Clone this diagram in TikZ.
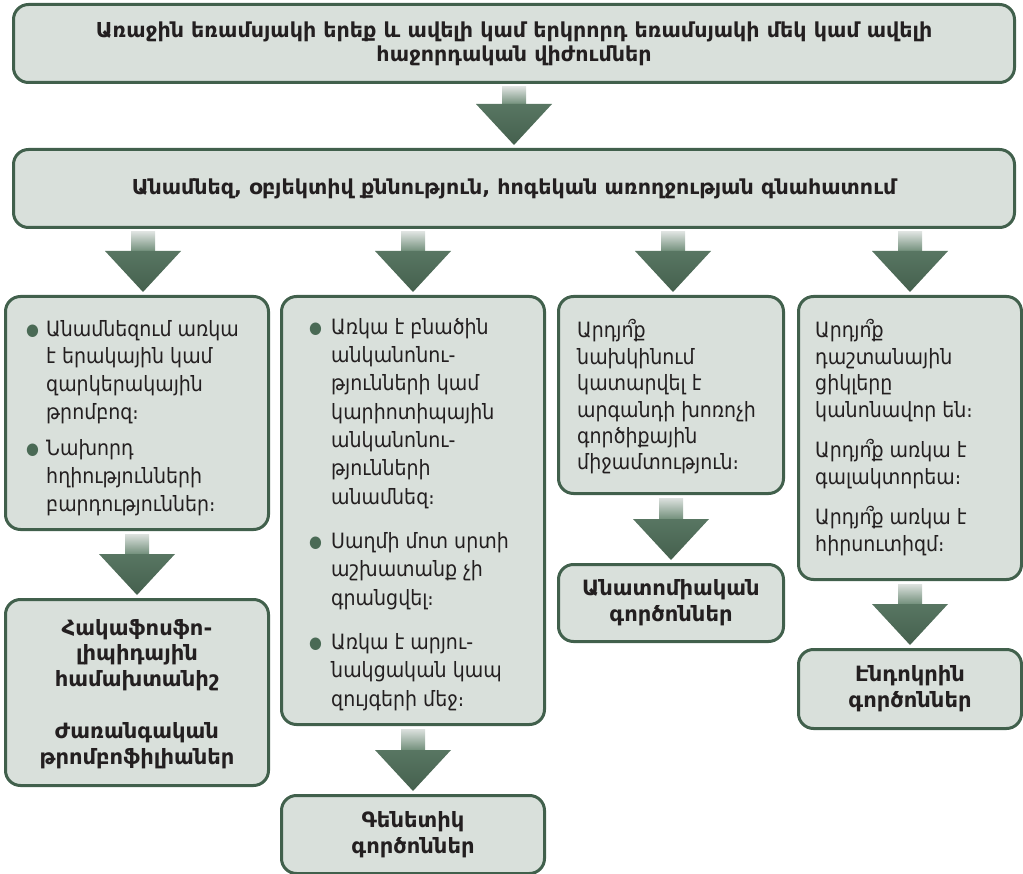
\documentclass[tikz,border=0pt]{standalone}
\usepackage{fontspec}
\setmainfont{DejaVu Sans}
\newfontfamily\condf{DejaVu Sans Condensed}
\usetikzlibrary{calc}
\definecolor{boxfill}{HTML}{D9E0DB}
\definecolor{boxline}{HTML}{41604C}
\definecolor{arrowtop}{HTML}{DCE1DE}
\definecolor{arrowmid}{HTML}{6E8C77}
\definecolor{arrowhead}{HTML}{587662}
\definecolor{arrowdark}{HTML}{45604E}
\definecolor{bulletc}{HTML}{4A6A55}
\definecolor{txtc}{HTML}{231F20}
\newlength\px
\setlength\px{0.03cm}
\newcommand\bul[1]{\makebox[#1][l]{\textcolor{bulletc}{\fontsize{14}{14}\selectfont\raisebox{0.6pt}{●}}}}
\newcommand\qm{\makebox[0pt][l]{\kern-0.24em ՞}}
\newcommand\barrow[3][0]{%
  \coordinate (bt-#2-#3) at ($(#2.south -| #3.north)+(#1,3)$);
  \coordinate (bp-#2-#3) at ($(#3.north)+(#1,-3)$);
  \shade[top color=arrowtop, bottom color=arrowmid] ($(bt-#2-#3)+(-12,0)$) rectangle ($(bp-#2-#3)+(12,-40)$);
  \shade[top color=arrowhead, bottom color=arrowdark] ($(bp-#2-#3)+(-38,-41)$) -- ($(bp-#2-#3)+(38,-41)$) -- (bp-#2-#3) -- cycle;
}
\tikzset{
  box/.style={draw=boxline, fill=boxfill, line width=3\px, rounded corners=15\px, inner sep=0pt, align=center, text=txtc},
  txt/.style={inner sep=0pt, text=txtc, anchor=base west},
  titlef/.style={font=\bfseries\fontsize{17.6}{20.5}\selectfont},
  bottomf/.style={font=\bfseries\fontsize{18}{22.1}\selectfont}
}
\begin{document}
\begin{tikzpicture}[x=0.03cm, y=-0.03cm]
\useasboundingbox (0,0) rectangle (1023,874);
% top boxes
\node[box, titlef, anchor=north west, minimum width=1001\px, minimum height=78\px] (T) at (12,3)
  {Առաջին եռամսյակի երեք և ավելի կամ երկրորդ եռամսյակի մեկ կամ ավելի\\հաջորդական վիժումներ};
\node[box, titlef, anchor=north west, minimum width=1001\px, minimum height=78\px] (M) at (12,148)
  {Անամնեզ, օբյեկտիվ քննություն, հոգեկան առողջության գնահատում};
% middle row
\node[box, anchor=north west, minimum width=263\px, minimum height=233\px] (A) at (4,295) {};
\node[box, anchor=north west, minimum width=263\px, minimum height=428\px] (B) at (280,295) {};
\node[box, anchor=north west, minimum width=225\px, minimum height=197\px] (C) at (557,295) {};
\node[box, anchor=north west, minimum width=223\px, minimum height=283\px] (D) at (797,295) {};
% bottom row
\node[box, anchor=north west, minimum width=263\px, minimum height=186\px] (A2) at (4,598) {};
\node[box, bottomf, anchor=north west, minimum width=263\px, minimum height=78\px] (B2) at (280,794)
  {Գենետիկ\\գործոններ};
\node[box, bottomf, anchor=north west, minimum width=225\px, minimum height=77\px] (C2) at (557,563)
  {Անատոմիական\\գործոններ};
\node[box, bottomf, anchor=north west, minimum width=223\px, minimum height=79\px] (D2) at (797,648)
  {Էնդոկրին\\գործոններ};
% texts
\node[txt, bottomf, anchor=base] (A2t) at ($(A2.north)+(0,37)$)
  {\begin{tabular}[t]{@{}c@{}}Հակաֆոսֆո-\\ լիպիդային\\ համախտանիշ\\[22.1pt] Ժառանգական\\ թրոմբոֆիլիաներ\end{tabular}};
\node[txt, font=\condf\fontsize{18}{23.8}\selectfont] (At) at ($(A.north west)+(22,41)$)
  {\begin{tabular}[t]{@{}l@{}l@{}}
   \bul{20\px} & Անամնեզում առկա\\ & է երակային կամ\\ & զարկերակային\\ & թրոմբոզ։\\[6.8pt]
   \bul{20\px} & Նախորդ\\ & հղիությունների\\ & բարդություններ։
   \end{tabular}};
\node[txt, font=\condf\fontsize{18}{24.2}\selectfont] (Bt) at ($(B.north west)+(29,39)$)
  {\begin{tabular}[t]{@{}l@{}l@{}}
   \bul{22\px} & Առկա է բնածին\\ & անկանոնու-\\ & թյունների կամ\\ & կարիոտիպային\\ & անկանոնու-\\ & թյունների\\ & անամնեզ։\\[13.6pt]
   \bul{22\px} & Սաղմի մոտ սրտի\\ & աշխատանք չի\\ & գրանցվել։\\[13.6pt]
   \bul{22\px} & Առկա է արյու-\\ & նակցական կապ\\ & զույգերի մեջ։
   \end{tabular}};
\node[txt, font=\condf\fontsize{18}{22.5}\selectfont] (Ct) at ($(C.north west)+(20,43)$)
  {\begin{tabular}[t]{@{}l@{}}Արդյո\qm ք\\ նախկինում\\ կատարվել է\\ արգանդի խոռոչի\\ գործիքային\\ միջամտություն։\end{tabular}};
\node[txt, font=\condf\fontsize{18}{22.5}\selectfont] (Dt) at ($(D.north west)+(18,43)$)
  {\begin{tabular}[t]{@{}l@{}}Արդյո\qm ք\\ դաշտանային\\ ցիկլերը\\ կանոնավոր են։\\[12.3pt] Արդյո\qm ք առկա է\\ գալակտորեա։\\[12.3pt] Արդյո\qm ք առկա է\\ հիրսուտիզմ։\end{tabular}};
% arrows
\barrow{T}{M}
\barrow[6]{M}{A}
\barrow{M}{B}
\barrow[2]{M}{C}
\barrow{M}{D}
\barrow{A}{A2}
\barrow{B}{B2}
\barrow{C}{C2}
\barrow{D}{D2}
\end{tikzpicture}
\end{document}
